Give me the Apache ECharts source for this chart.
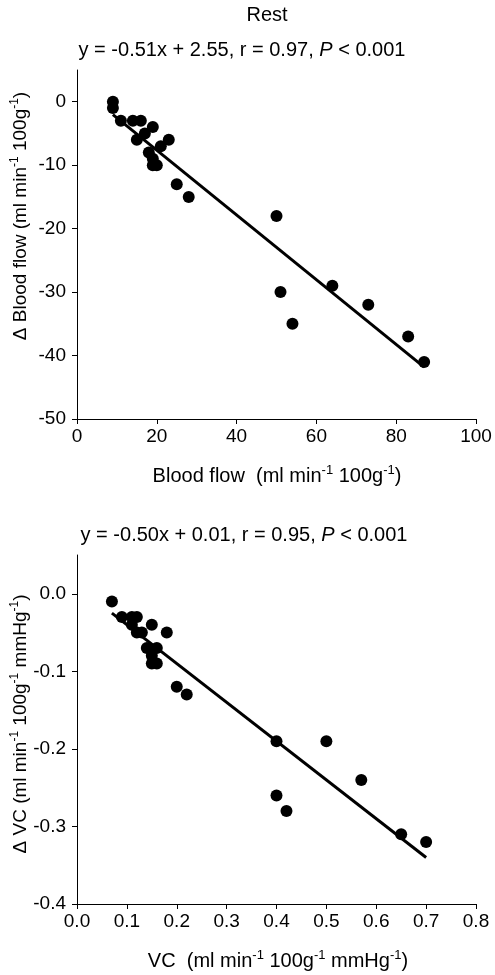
<!DOCTYPE html>
<html>
<head>
<meta charset="utf-8">
<script src="https://cdn.jsdelivr.net/npm/echarts@6/dist/echarts.min.js"></script>
<style>
html,body{margin:0;padding:0;background:#fff;}
#chart{width:495px;height:975px;}
</style>
</head>
<body>
<div id="chart"></div>
<script>
// ---- Top panel: Blood flow vs Δ Blood flow ----
var flowX = [9, 9, 11, 14, 16, 19, 17, 15, 23, 21, 18, 19, 19, 20, 25, 28, 50, 51, 54, 64, 73, 83, 87];
var flowY = [0, -1, -3, -3, -3, -4, -5, -6, -6, -7, -8, -9, -10, -10, -13, -15, -18, -30, -35, -29, -32, -37, -41];
var flowFitX = [9, 87];
var flowFitY = [-2.04, -41.82];
var flowXTicks = [0, 20, 40, 60, 80, 100];
var flowYTicks = [-50, -40, -30, -20, -10, 0];

// ---- Bottom panel: VC vs Δ VC ----
var vcX = [0.07, 0.09, 0.11, 0.12, 0.11, 0.15, 0.18, 0.12, 0.13, 0.14, 0.16, 0.15, 0.15, 0.16, 0.20, 0.22, 0.40, 0.50, 0.57, 0.40, 0.42, 0.65, 0.70];
var vcY = [-0.01, -0.03, -0.03, -0.03, -0.04, -0.04, -0.05, -0.05, -0.05, -0.07, -0.07, -0.08, -0.09, -0.09, -0.12, -0.13, -0.19, -0.19, -0.24, -0.26, -0.28, -0.31, -0.32];
var vcFitX = [0.07, 0.70];
var vcFitY = [-0.025, -0.34];
var vcYTicks = [-0.4, -0.3, -0.2, -0.1, 0];

var FONT = 'Liberation Sans';
var FS = 19;   // tick labels
var TS = 20;   // titles / equations

function pairs(xs, ys) { return xs.map(function (x, i) { return [x, ys[i]]; }); }

var axisCommon = {
  axisLine: { show: true, onZero: false, lineStyle: { color: '#000', width: 1 } },
  axisTick: { show: true, inside: false, length: 5, lineStyle: { color: '#000', width: 1 } },
  splitLine: { show: false },
  axisLabel: { color: '#000', fontFamily: FONT, fontSize: FS }
};
function ax(extra) { return Object.assign({}, JSON.parse(JSON.stringify(axisCommon)), extra); }

function mkRich(size, supSize) {
  return {
    n: { fontFamily: FONT, fontSize: size, color: '#000', lineHeight: 24 },
    i: { fontFamily: FONT, fontSize: size, color: '#000', fontStyle: 'italic', lineHeight: 24 },
    s: { fontFamily: FONT, fontSize: supSize, color: '#000', verticalAlign: 'top', lineHeight: 11 }
  };
}
var rich = mkRich(TS, 13);
var richY = mkRich(19, 12);

function txt(x, y, text, rot, r) {
  return {
    type: 'text', x: x, y: y, rotation: rot || 0,
    style: { text: text, rich: r || rich, align: 'center', verticalAlign: 'middle', fill: '#000', font: TS + 'px ' + FONT }
  };
}

var chart = echarts.init(document.getElementById('chart'), null, { renderer: 'canvas' });
chart.setOption({
  animation: false,
  backgroundColor: '#fff',
  grid: [
    { left: 77, top: 70, width: 399, height: 349 },
    { left: 77, top: 555, width: 399, height: 349 }
  ],
  xAxis: [
    ax({ type: 'value', gridIndex: 0, min: 0, max: 100, interval: 20,
         axisLabel: { color: '#000', fontFamily: FONT, fontSize: FS, margin: 8, customValues: flowXTicks } }),
    ax({ type: 'value', gridIndex: 1, min: 0, max: 0.8, interval: 0.1,
         axisLabel: { color: '#000', fontFamily: FONT, fontSize: FS, margin: 8, formatter: function (v) { return v.toFixed(1); } } })
  ],
  yAxis: [
    ax({ type: 'value', gridIndex: 0, min: -50, max: 5,
         axisTick: { show: true, length: 5, lineStyle: { color: '#000' }, customValues: flowYTicks },
         axisLabel: { color: '#000', fontFamily: FONT, fontSize: FS, margin: 11, customValues: flowYTicks } }),
    ax({ type: 'value', gridIndex: 1, min: -0.4, max: 0.05,
         axisTick: { show: true, length: 5, lineStyle: { color: '#000' }, customValues: vcYTicks },
         axisLabel: { color: '#000', fontFamily: FONT, fontSize: FS, margin: 11, customValues: vcYTicks,
                      formatter: function (v) { return v.toFixed(1); } } })
  ],
  series: [
    { type: 'line', xAxisIndex: 0, yAxisIndex: 0, data: pairs(flowFitX, flowFitY), symbol: 'none',
      lineStyle: { color: '#000', width: 3 }, z: 2 },
    { type: 'scatter', xAxisIndex: 0, yAxisIndex: 0, data: pairs(flowX, flowY), symbolSize: 12,
      itemStyle: { color: '#000', opacity: 1 }, z: 3 },
    { type: 'line', xAxisIndex: 1, yAxisIndex: 1, data: pairs(vcFitX, vcFitY), symbol: 'none',
      lineStyle: { color: '#000', width: 3 }, z: 2 },
    { type: 'scatter', xAxisIndex: 1, yAxisIndex: 1, data: pairs(vcX, vcY), symbolSize: 12,
      itemStyle: { color: '#000', opacity: 1 }, z: 3 }
  ],
  graphic: [
    txt(267, 15, '{n|Rest}'),
    txt(242, 50, '{n|y = -0.51x + 2.55, r = 0.97, }{i|P}{n| < 0.001}'),
    txt(277, 476, '{n|Blood flow  (ml min}{s|-1}{n| 100g}{s|-1}{n|)}'),
    txt(21, 216, '{n|Δ Blood flow (ml min}{s|-1}{n| 100g}{s|-1}{n|)}', Math.PI / 2, richY),
    txt(244, 535, '{n|y = -0.50x + 0.01, r = 0.95, }{i|P}{n| < 0.001}'),
    txt(278, 961, '{n|VC  (ml min}{s|-1}{n| 100g}{s|-1}{n| mmHg}{s|-1}{n|)}'),
    txt(21, 724, '{n|Δ VC (ml min}{s|-1}{n| 100g}{s|-1}{n| mmHg}{s|-1}{n|)}', Math.PI / 2, richY)
  ]
});
</script>
</body>
</html>
